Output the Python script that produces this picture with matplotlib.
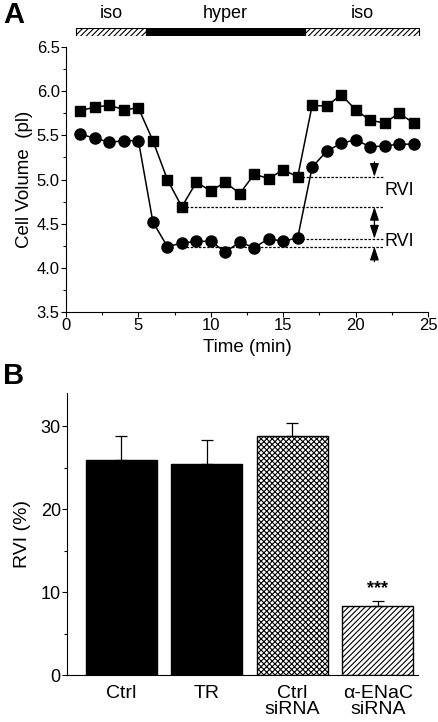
import matplotlib.pyplot as plt
from matplotlib.ticker import MultipleLocator

plt.rcParams["font.family"] = ["Liberation Sans", "DejaVu Sans"]
plt.rcParams["hatch.linewidth"] = 0.8

# panel A data
time = list(range(1, 25))
vol_sq = [5.78, 5.82, 5.84, 5.79, 5.81, 5.44, 5.00, 4.69, 4.97, 4.87, 4.97, 4.84,
          5.06, 5.01, 5.11, 5.03, 5.84, 5.83, 5.96, 5.79, 5.67, 5.64, 5.75, 5.64]
vol_ci = [5.51, 5.47, 5.42, 5.44, 5.44, 4.52, 4.24, 4.28, 4.30, 4.30, 4.18, 4.29,
          4.23, 4.33, 4.30, 4.34, 5.14, 5.32, 5.41, 5.45, 5.37, 5.38, 5.40, 5.40]

# solution bar on top: (start, end, label)
phases = [(0.7, 5.5, "iso"), (5.5, 16.5, "hyper"), (16.5, 24.4, "iso")]

# RVI reference lines (level, start time)
rvi_levels = [5.03, 4.69, 4.33, 4.24]
rvi_starts = [16.3, 8.0, 16.3, 8.0]
rvi_end = 21.9
arrow_x = 21.3

# panel B data
groups = ["Ctrl", "TR", "Ctrl\nsiRNA", "\u03b1-ENaC\nsiRNA"]
rvi = [25.9, 25.5, 28.8, 8.3]
rvi_err = [2.9, 2.8, 1.6, 0.6]

fig = plt.figure(figsize=(4.38, 7.22), dpi=100)

# ---- panel A ----
axA = fig.add_axes([66 / 438, 1 - 312 / 722, 362 / 438, 265 / 722])
axA.plot(time, vol_sq, "k-", marker="s", ms=7.5, lw=1.1, clip_on=False)
axA.plot(time, vol_ci, "k-", marker="o", ms=8, lw=1.1, clip_on=False)

for lev, st in zip(rvi_levels, rvi_starts):
    axA.plot([st, rvi_end], [lev, lev], "k", ls=(0, (2, 1.3)), lw=0.9)

ap = dict(arrowstyle="-|>,head_length=0.9,head_width=0.3", color="k", lw=0.9,
          mutation_scale=9, shrinkA=0, shrinkB=0)
mid = (rvi_levels[1] + rvi_levels[2]) / 2
axA.annotate("", xy=(arrow_x, rvi_levels[0]), xytext=(arrow_x, rvi_levels[0] + 0.17), arrowprops=ap)
axA.annotate("", xy=(arrow_x, rvi_levels[1]), xytext=(arrow_x, mid), arrowprops=ap)
axA.annotate("", xy=(arrow_x, rvi_levels[2]), xytext=(arrow_x, mid), arrowprops=ap)
axA.annotate("", xy=(arrow_x, rvi_levels[3]), xytext=(arrow_x, rvi_levels[3] - 0.17), arrowprops=ap)
axA.text(22.0, 4.88, "RVI", fontsize=13, va="center")
axA.text(22.0, 4.30, "RVI", fontsize=13, va="center")

axA.set_xlim(0, 25)
axA.set_ylim(3.5, 6.5)
axA.xaxis.set_major_locator(MultipleLocator(5))
axA.xaxis.set_minor_locator(MultipleLocator(2.5))
axA.yaxis.set_major_locator(MultipleLocator(0.5))
axA.yaxis.set_minor_locator(MultipleLocator(0.25))
axA.yaxis.set_major_formatter(plt.FormatStrFormatter("%.1f"))
axA.spines[["top", "right"]].set_visible(False)
axA.tick_params(labelsize=12, length=3.5, width=0.8, pad=1)
axA.tick_params(which="minor", length=2, width=0.8)
axA.set_xlabel("Time (min)", fontsize=13.5, labelpad=4)
axA.set_ylabel("Cell Volume  (pl)", fontsize=13.5, labelpad=3)

# solution bar
axS = fig.add_axes([66 / 438, 1 - 36 / 722, 362 / 438, 8 / 722])
for st, en, lab in phases:
    if lab == "hyper":
        axS.barh(0, en - st, left=st, height=1, color="k", edgecolor="k", lw=0.8)
    else:
        axS.barh(0, en - st, left=st, height=1, color="white", edgecolor="k",
                 hatch="//////", lw=0.8)
    axS.text((st + en) / 2, 1.3, lab, ha="center", va="bottom", fontsize=13)
axS.set_xlim(0, 25)
axS.set_ylim(-0.5, 0.5)
axS.axis("off")

fig.text(3 / 438, 1 - 1 / 722, "A", fontsize=21, fontweight="bold", va="top")

# ---- panel B ----
axB = fig.add_axes([67 / 438, 1 - 675 / 722, 351 / 438, 282 / 722])
pos = [1, 2, 3, 4]
fills = ["k", "k", "white", "white"]
hatches = [None, None, "xxxxxx", "//////"]
for p, v, e, fc, h in zip(pos, rvi, rvi_err, fills, hatches):
    axB.bar(p, v, width=0.83, color=fc, edgecolor="k", hatch=h, lw=1.0)
    axB.errorbar(p, v, yerr=[[0], [e]], color="k", capsize=4, elinewidth=0.9, capthick=0.9)
axB.text(pos[3], rvi[3] + rvi_err[3] + 0.5, "***", ha="center", va="bottom", fontsize=13, fontweight="bold")

axB.set_xlim(0.363, 4.47)
axB.set_ylim(0, 34)
axB.yaxis.set_major_locator(MultipleLocator(10))
axB.yaxis.set_minor_locator(MultipleLocator(5))
axB.set_xticks(pos)
axB.set_xticklabels(groups, fontsize=14, linespacing=0.95)
axB.tick_params(axis="x", length=0, pad=7)
axB.tick_params(axis="y", labelsize=13, length=3.5, width=0.8, pad=1)
axB.tick_params(axis="y", which="minor", length=2, width=0.8)
axB.spines[["top", "right"]].set_visible(False)
axB.set_ylabel("RVI (%)", fontsize=14, labelpad=7)

fig.text(3 / 438, 1 - 362 / 722, "B", fontsize=21, fontweight="bold", va="top")

plt.savefig("out.png", dpi=100)
